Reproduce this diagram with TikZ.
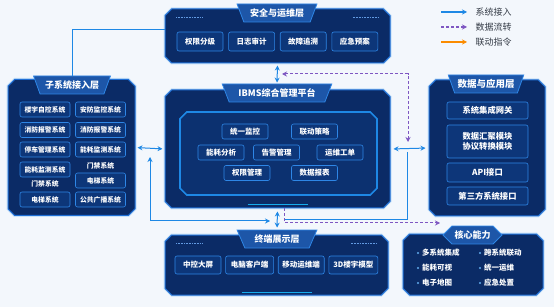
\documentclass[tikz,border=0pt]{standalone}
\usepackage{fontspec}
\setmainfont{Noto Sans CJK SC}
\usetikzlibrary{arrows.meta,positioning,shapes.misc,shapes.geometric}
\definecolor{IbmsBg}{HTML}{F3F7FC}
\definecolor{IbmsNavy}{HTML}{0B2B66}
\definecolor{IbmsEdge}{HTML}{1F6FD6}
\definecolor{IbmsItem}{HTML}{0D3679}
\definecolor{IbmsItemEdge}{HTML}{2E86E6}
\definecolor{IbmsTab}{HTML}{1D56A8}
\definecolor{IbmsBlue}{HTML}{1E88E5}
\definecolor{IbmsPurple}{HTML}{7E57C2}
\definecolor{IbmsOrange}{HTML}{FB8C00}
\definecolor{IbmsInk}{HTML}{333A45}

\begin{document}
\begin{tikzpicture}[x=1pt,y=-1pt,font=\fontsize{7.5}{9}\selectfont\bfseries,
  layer/.style={chamfered rectangle,chamfered rectangle sep=5pt,draw=IbmsEdge,line width=1pt,fill=IbmsNavy,preaction={draw=IbmsBlue!25,line width=3pt}},
  tab/.style={trapezium,shape border rotate=180,trapezium angle=62,trapezium stretches=true,draw=IbmsItemEdge,line width=0.8pt,fill=IbmsTab,text=white,font=\fontsize{9}{10}\selectfont\bfseries,minimum height=18pt,inner sep=1pt},
  item/.style={draw=IbmsItemEdge,line width=0.6pt,rounded corners=2pt,fill=IbmsItem,text=white,minimum height=15pt,minimum width=46pt,inner sep=1pt},
  sitem/.style={item,minimum width=50pt,font=\fontsize{6.8}{8}\selectfont\bfseries},
  ditem/.style={item,minimum width=81pt,minimum height=18pt,font=\fontsize{8.3}{10.5}\selectfont\bfseries,align=center},
  plain/.style={text=white,inner sep=1pt},
  legend/.style={text=IbmsInk,anchor=west,font=\fontsize{9}{10}\selectfont},
  deco/.style={IbmsEdge!70,line width=0.6pt,dash pattern=on 1pt off 0.6pt},
  acc/.style={IbmsBlue,line width=1pt},
  flow/.style={IbmsPurple,line width=1pt,dash pattern=on 3pt off 2pt},
  both/.style={{Stealth[length=5pt,width=5pt]}-{Stealth[length=5pt,width=5pt]}},
  one/.style={-{Stealth[length=5pt,width=5pt]}}]
  \fill[IbmsBg] (0,0) rectangle (554,307);

  % security layer
  \node[layer,minimum width=225pt,minimum height=54pt] (sec) at (277.5,36) {};
  \node[tab,minimum width=80pt] (sectab) at (277,13) {安全与运维层};
  \node[item,minimum height=19pt] (perm) at (200,41.5) {权限分级};
  \node[item,minimum height=19pt,right=5pt of perm] (audit) {日志审计};
  \node[item,minimum height=19pt,right=5pt of audit] (trace) {故障追溯};
  \node[item,minimum height=19pt,right=5pt of trace] (plan) {应急预案};
  \draw[deco] ([xshift=8pt,yshift=-5pt]sec.north west) -- +(26,0);
  \draw[deco] ([xshift=-8pt,yshift=-5pt]sec.north east) -- +(-26,0);

  % subsystem layer
  \node[layer,minimum width=127pt,minimum height=136pt] (sub) at (71.5,147.5) {};
  \node[tab,minimum width=77pt] (subtab) at (72,85) {子系统接入层};
  \node[sitem] (s1) at (45,109.5) {楼宇自控系统};
  \node[sitem] (s2) at (100.5,109.5) {安防监控系统};
  \node[sitem] (s3) at (45,130) {消防报警系统};
  \node[sitem] (s4) at (100.5,130) {消防报警系统};
  \node[sitem] (s5) at (45,149.5) {停车管理系统};
  \node[sitem] (s6) at (100.5,149.5) {能耗监测系统};
  \node[sitem] (s7) at (45,169.5) {能耗监测系统};
  \node[plain,font=\fontsize{6.8}{8}\selectfont\bfseries] (s8) at (100.5,166) {门禁系统};
  \node[plain,font=\fontsize{6.8}{8}\selectfont\bfseries] (s9) at (45,184) {门禁系统};
  \node[sitem] (s10) at (100.5,180.5) {电梯系统};
  \node[sitem] (s11) at (45,199.5) {电梯系统};
  \node[sitem] (s12) at (100.5,199.5) {公共广播系统};

  % platform
  \node[layer,minimum width=225pt,minimum height=118pt] (ibms) at (277.5,149) {};
  \node[tab,minimum width=110pt] (ibmstab) at (277,93) {IBMS综合管理平台};
  \node[chamfered rectangle,chamfered rectangle sep=6pt,draw=IbmsBlue,line width=1.6pt,fill=IbmsItem!55!IbmsNavy,minimum width=197pt,minimum height=83pt] (hub) at (278.5,153.5) {};
  \node[item] (monitor) at (245,131.5) {统一监控};
  \node[item] (linkage) at (314.5,131.5) {联动策略};
  \node[item] (energy) at (221,152.5) {能耗分析};
  \node[item] (alarm) at (276.5,152.5) {告警管理};
  \node[item] (order) at (340,152.5) {运维工单};
  \node[item] (perms) at (247,173) {权限管理};
  \node[item] (report) at (314.5,173) {数据报表};
  \draw[IbmsBlue!70!cyan,line width=1.5pt] ([xshift=-30pt,yshift=4pt]ibms.south) -- ([xshift=30pt,yshift=4pt]ibms.south);

  % data layer
  \node[layer,minimum width=116pt,minimum height=136pt] (data) at (487,148) {};
  \node[tab,minimum width=76pt,font=\fontsize{9.5}{10}\selectfont\bfseries] (datatab) at (486,84) {数据与应用层};
  \node[ditem,minimum height=17pt] (gate) at (487.5,110.5) {系统集成网关};
  \node[ditem,minimum height=33pt] (merge) at (487.5,141.5) {数据汇聚模块\\协议转换模块};
  \node[ditem,minimum height=19pt] (api) at (487.5,172.5) {API接口};
  \node[ditem] (third) at (487.5,196) {第三方系统接口};

  % terminal layer
  \node[layer,minimum width=223pt,minimum height=60pt] (term) at (276.5,265) {};
  \node[tab,minimum width=80pt] (termtab) at (277,239) {终端展示层};
  \node[item,minimum height=18pt] (screen) at (198,265) {中控大屏};
  \node[item,minimum height=18pt,minimum width=48pt,right=4pt of screen] (pc) {电脑客户端};
  \node[item,minimum height=18pt,right=4pt of pc] (mobile) {移动运维端};
  \node[item,minimum height=18pt,minimum width=49pt,right=4pt of mobile] (model) {3D楼宇模型};
  \draw[IbmsBlue!70!cyan,line width=1.5pt] ([xshift=-35pt,yshift=3pt]term.south) -- ([xshift=35pt,yshift=3pt]term.south);
  \draw[deco] ([xshift=8pt,yshift=-5pt]term.north west) -- +(26,0);
  \draw[deco] ([xshift=-8pt,yshift=-5pt]term.north east) -- +(-26,0);

  % core abilities
  \node[layer,minimum width=140pt,minimum height=61pt] (core) at (473,264.5) {};
  \node[chamfered rectangle,chamfered rectangle xsep=7pt,draw=IbmsItemEdge,line width=0.8pt,fill=IbmsTab,text=white,font=\fontsize{9}{10}\selectfont\bfseries,minimum width=59pt,minimum height=16pt,inner sep=1pt] (coretab) at (472.5,235) {核心能力};
  \node[plain,anchor=west] (k1) at (421,253) {多系统集成};
  \node[plain,anchor=west] (k2) at (483,253) {跨系统联动};
  \node[plain,anchor=west] (k3) at (421,268) {能耗可视};
  \node[plain,anchor=west] (k4) at (483,268) {统一运维};
  \node[plain,anchor=west] (k5) at (421,283) {电子地图};
  \node[plain,anchor=west] (k6) at (483,283) {应急处置};
  \foreach \k in {k1,k2,k3,k4,k5,k6}
    \fill[IbmsBlue!70!white] ([xshift=-3pt]\k.west) circle (1.1pt);

  % legend
  \node[legend] (lg1) at (472,12) {系统接入};
  \node[legend] (lg2) at (472,27) {数据流转};
  \node[legend] (lg3) at (472,42) {联动指令};
  \coordinate (lg1s) at (441,12);
  \coordinate (lg2s) at (441,27);
  \coordinate (lg3s) at (441,42);
  \draw[acc,one,line width=1.2pt] (lg1s) -- ([xshift=-5pt]lg1.west);
  \draw[flow,one,line width=1.2pt] (lg2s) -- ([xshift=-5pt]lg2.west);
  \draw[IbmsOrange,one,line width=1.2pt] (lg3s) -- ([xshift=-5pt]lg3.west);

  % connectors
  \draw[acc] (subtab.north) |- ([yshift=6pt]sec.west);
  \draw[acc,both,shorten <=2pt,shorten >=1pt] (sec.south) -- (ibmstab.north);
  \draw[acc,both,shorten <=2pt,shorten >=2pt] (sub.east) -- (ibms.west);
  \draw[acc,both,shorten <=3pt,shorten >=3pt] (ibms.east) -- (data.west);
  \draw[acc,both,shorten <=3pt,shorten >=2pt] (ibms.south) -- (termtab.north);
  \coordinate (fa) at (282,74);
  \coordinate (fb) at (408,142);
  \draw[flow,both] (fa) -| (fb);
  \coordinate (ua) at (150,157);
  \coordinate (ub) at (270,221);
  \draw[acc,both] (ua) |- (ub);
  \coordinate (da) at (407,152);
  \coordinate (db) at (285,220);
  \draw[acc] (da) |- (db);
  \coordinate (fc) at (440,223);
  \draw[flow,one] ([xshift=7pt]ibms.south) |- (fc);
\end{tikzpicture}
\end{document}
